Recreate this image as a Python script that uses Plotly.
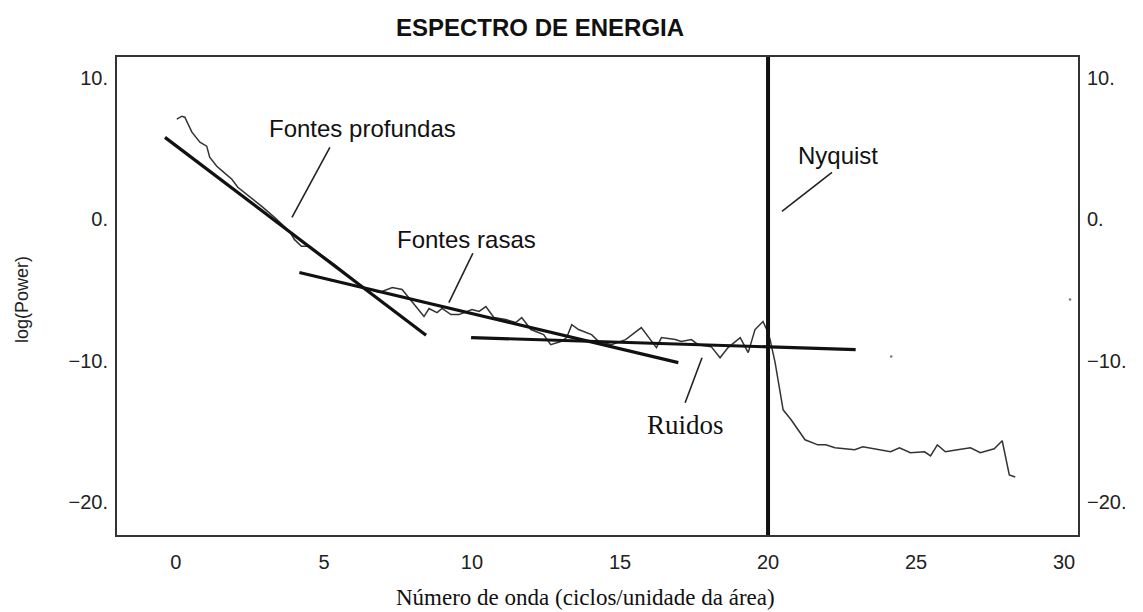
import plotly.graph_objects as go

# Radially averaged power spectrum: wavenumber vs log(power)
wavenumber = [0.03, 0.2, 0.3, 0.54, 0.81, 1.04, 1.14, 1.38, 1.58, 1.89, 2.09, 2.49, 2.9, 3.33,
              3.67, 3.84, 4.0, 4.24, 4.51, 4.85, 5.35, 5.86, 6.3, 6.6, 6.87, 7.31, 7.64, 8.38,
              8.55, 8.82, 8.99, 9.29, 9.56, 10.0, 10.24, 10.47, 10.74, 11.14, 11.48, 11.68,
              11.99, 12.42, 12.66, 13.0, 13.2, 13.37, 13.6, 14.04, 14.28, 14.71, 15.19, 15.72,
              16.23, 16.4, 16.87, 17.07, 17.41, 17.64, 18.08, 18.38, 18.65, 19.06, 19.33,
              19.56, 19.83, 20.0, 20.07, 20.24, 20.51, 20.78, 21.25, 21.68, 21.95, 22.26,
              22.93, 23.2, 23.6, 24.14, 24.44, 24.81, 25.29, 25.49, 25.72, 25.99, 26.4,
              26.84, 27.17, 27.64, 27.91, 28.15, 28.35]
log_power = [7.09, 7.3, 7.23, 6.17, 5.46, 5.18, 4.4, 3.76, 3.4, 2.84, 2.27, 1.63, 0.92, 0.14,
             -0.57, -0.85, -1.42, -1.91, -1.91, -2.41, -3.19, -4.04, -4.82, -4.96, -5.18,
             -4.82, -4.96, -6.88, -6.31, -6.6, -6.31, -6.74, -6.74, -6.38, -6.52, -6.17,
             -6.95, -7.09, -7.3, -6.95, -7.8, -8.16, -8.87, -8.65, -8.37, -7.45, -7.8,
             -8.16, -8.65, -8.87, -8.51, -7.66, -9.08, -8.37, -8.51, -8.65, -8.51, -8.87,
             -9.01, -9.79, -9.08, -8.37, -9.43, -7.8, -7.23, -8.01, -8.51, -10.14, -13.48,
             -14.18, -15.6, -15.96, -15.96, -16.17, -16.31, -16.1, -16.24, -16.45, -16.17,
             -16.52, -16.45, -16.74, -15.96, -16.45, -16.31, -16.17, -16.52, -16.24,
             -15.67, -18.09, -18.23]

# Straight-line fits to the spectrum segments (x0, y0, x1, y1)
fit_deep = [-0.37, 5.8, 8.45, -8.2]
fit_shallow = [4.17, -3.76, 16.97, -10.14]
fit_noise = [9.97, -8.37, 22.96, -9.22]

nyquist_k = 20

# Stray points in the plot area
stray_x = [24.16, 30.2]
stray_y = [-9.7, -5.67]

x_ticks = [0, 5, 10, 15, 20, 25, 30]
y_ticks = [10, 0, -10, -20]
y_tick_text = ["10.", "0.", "\u221210.", "\u221220."]

x_range = [-1.99, 30.47]
y_range = [-22.34, 11.49]

# Callouts: label, text centre, leader start, leader end, font
callouts = [
    ("Fontes profundas", (6.3, 6.4), (5.2, 5.1), (3.92, 0.14), "sans"),
    ("Fontes rasas", (9.8, -1.45), (10.03, -2.4), (9.22, -5.9), "sans"),
    ("Nyquist", (22.35, 4.5), (22.16, 3.33), (20.47, 0.57), "sans"),
    ("Ruidos", (17.2, -14.55), (17.77, -9.79), (17.2, -12.98), "serif"),
]

SANS = "Liberation Sans, Arial, sans-serif"
SERIF = "Liberation Serif, Times New Roman, serif"

# plot-area geometry in pixels, used to place the outer titles
L, R, T, B = 117, 1078, 57, 535
PW, PH = R - L, B - T

fig = go.Figure()

fig.add_trace(go.Scatter(x=wavenumber, y=log_power, mode="lines",
                         line=dict(color="#333333", width=1.5), showlegend=False))

for seg in (fit_deep, fit_shallow, fit_noise):
    fig.add_trace(go.Scatter(x=[seg[0], seg[2]], y=[seg[1], seg[3]], mode="lines",
                             line=dict(color="#111111", width=3.2), showlegend=False))

fig.add_trace(go.Scatter(x=[nyquist_k, nyquist_k], y=y_range, mode="lines",
                         line=dict(color="#111111", width=4), showlegend=False))

fig.add_trace(go.Scatter(x=stray_x, y=stray_y, mode="markers",
                         marker=dict(color="#777777", size=2.5), showlegend=False))

# invisible trace bound to the right-hand axis so its labels render
fig.add_trace(go.Scatter(x=[None], y=[None], yaxis="y2", showlegend=False))

for label, pos, p0, p1, fam in callouts:
    fig.add_shape(type="line", x0=p0[0], y0=p0[1], x1=p1[0], y1=p1[1],
                  line=dict(color="#222222", width=1.6))
    fig.add_annotation(x=pos[0], y=pos[1], text=label, showarrow=False,
                       xanchor="center", yanchor="middle",
                       font=dict(family=SANS if fam == "sans" else SERIF,
                                 size=24 if fam == "sans" else 27, color="#111111"))

fig.add_annotation(xref="paper", yref="paper", x=(540 - L) / PW, y=1 + (T - 28) / PH,
                   xanchor="center", yanchor="middle",
                   text="<b>ESPECTRO DE ENERGIA</b>", showarrow=False,
                   font=dict(family=SANS, size=24, color="#111111"))
fig.add_annotation(xref="paper", yref="paper", x=(585 - L) / PW, y=-(597 - B) / PH,
                   xanchor="center", yanchor="middle",
                   text="Número de onda (ciclos/unidade da área)", showarrow=False,
                   font=dict(family=SERIF, size=23, color="#111111"))
fig.add_annotation(xref="paper", yref="paper", x=-(L - 22) / PW, y=(B - 300) / PH,
                   xanchor="center", yanchor="middle",
                   text="log(Power)", textangle=-90, showarrow=False,
                   font=dict(family=SANS, size=18, color="#222222"))

tick_font = dict(family=SANS, size=20, color="#222222")

fig.update_layout(
    width=1143, height=612,
    margin=dict(l=L, r=1143 - R, t=T, b=612 - B),
    paper_bgcolor="white", plot_bgcolor="white",
    xaxis=dict(range=x_range, tickvals=x_ticks, ticks="", showgrid=False, zeroline=False,
               showline=True, linecolor="#333333", linewidth=2, mirror=True,
               tickfont=tick_font, ticklabelstandoff=8),
    yaxis=dict(range=y_range, tickvals=y_ticks, ticktext=y_tick_text, ticks="",
               showgrid=False, zeroline=False, showline=True, linecolor="#333333",
               linewidth=2, mirror=True, tickfont=tick_font, ticklabelstandoff=3),
    yaxis2=dict(range=y_range, tickvals=y_ticks, ticktext=y_tick_text, ticks="",
                overlaying="y", side="right", showgrid=False, zeroline=False,
                showline=False, tickfont=tick_font, ticklabelstandoff=8),
)

fig.write_html("out.html")
